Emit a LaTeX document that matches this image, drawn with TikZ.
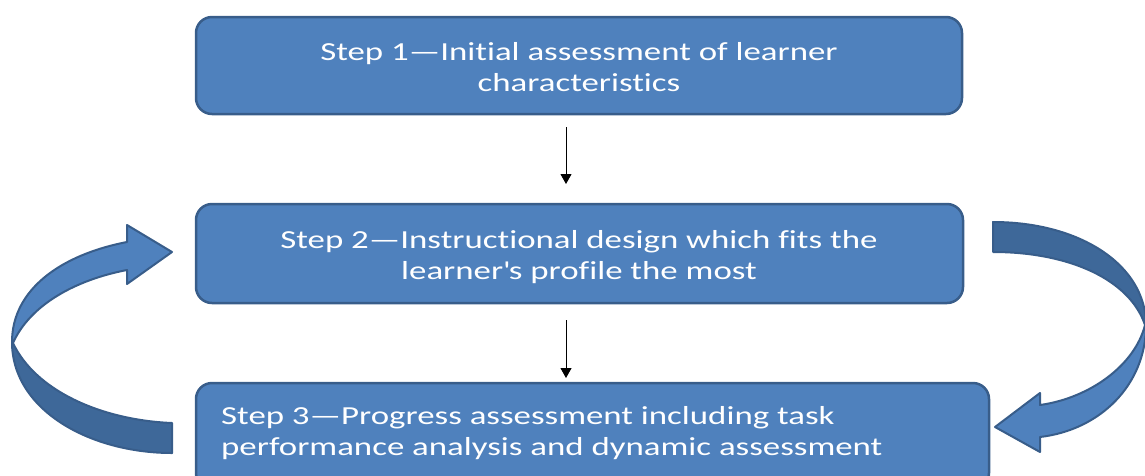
\documentclass[tikz,border=0pt]{standalone}
\usepackage{fontspec}
\setmainfont{Carlito}[FakeStretch=1.34, RawFeature=-liga]
\usetikzlibrary{arrows.meta}
\definecolor{boxfill}{HTML}{4F81BD}
\definecolor{boxline}{HTML}{385D8A}
\definecolor{darkband}{HTML}{3E6899}
\tikzset{
  stepbox/.style={draw=boxline, line width=2.5pt, fill=boxfill, rounded corners=16pt, inner sep=0pt},
  steptext/.style={text=white, font=\fontsize{26}{31}\selectfont, inner sep=0pt},
  flowarrow/.style={line width=1pt, black, -{Triangle[width=11pt,length=10pt]}},
  bandlight/.style={draw=boxline, line width=2pt, fill=boxfill, line join=round},
  banddark/.style={draw=boxline, line width=2pt, fill=darkband, line join=round}
}
\begin{document}
\begin{tikzpicture}[x=1pt,y=-1pt]
\useasboundingbox (0,0) rectangle (1145,475);
\begin{scope}
\clip (0,0) rectangle (1145,475);
% boxes
\node[stepbox, minimum width=766pt, minimum height=97pt] (s1) at (579,65.5) {};
\node[stepbox, minimum width=767pt, minimum height=99pt] (s2) at (579.5,253.5) {};
\node[stepbox, minimum width=793pt, minimum height=106pt] (s3) at (592.5,436) {};
\node[steptext, align=center] (t1) at (579,67) {Step 1—Initial assessment of learner\\characteristics};
\node[steptext, align=center] (t2) at (579,257) {Step 2—Instructional design which fits the\\learner\textquotesingle s profile the most};
\node[steptext, align=left, anchor=west] (t3) at (221,433) {Step 3—Progress assessment including task\\performance analysis and dynamic assessment};
% thin arrows
\coordinate (a1s) at (566,127);
\coordinate (a1e) at (566,184);
\coordinate (a2s) at (566,320);
\coordinate (a2e) at (566,378);
\draw[flowarrow] (a1s) -- (a1e);
\draw[flowarrow] (a2s) -- (a2e);
% left curved arrow
\draw[banddark] (12,342) .. controls (12,410) and (90,453) .. (172,453) -- (172,423)
   .. controls (100,420) and (35,390) .. (13,343) -- cycle;
\draw[bandlight] (127,242) -- (127,225) -- (172,252) -- (127,284) -- (127,270)
   .. controls (75,280) and (30,305) .. (13,343)
   -- (12,342)
   .. controls (12,290) and (60,255) .. (127,242) -- cycle;
% right curved arrow
\draw[banddark] (993,222) .. controls (1080,222) and (1146,265) .. (1146,325)
   -- (1145,325) .. controls (1130,280) and (1070,252) .. (993,252) -- cycle;
\draw[bandlight] (1146,325) .. controls (1146,385) and (1100,430) .. (1040,437)
   -- (1040,452) -- (995,427) -- (1040,393) -- (1040,405)
   .. controls (1090,398) and (1135,365) .. (1145,325) -- cycle;
\end{scope}
\end{tikzpicture}
\end{document}
